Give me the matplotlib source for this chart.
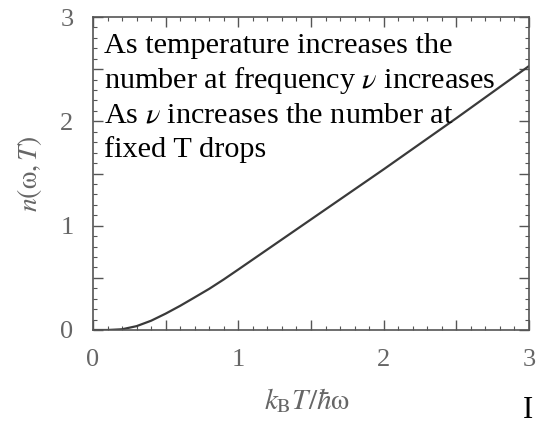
import numpy as np
import matplotlib.pyplot as plt
from matplotlib.ticker import MultipleLocator, FuncFormatter

# occupation number vs reduced temperature
kT_over_hw = [0.0, 0.1, 0.2, 0.3, 0.4, 0.5, 0.6, 0.7, 0.8, 0.9, 1.0,
              1.25, 1.5, 1.75, 2.0, 2.25, 2.5, 2.75, 3.0]
n_occ = [0.0, 0.0, 0.007, 0.037, 0.089, 0.157, 0.232, 0.313, 0.395, 0.485, 0.58,
         0.82, 1.06, 1.30, 1.54, 1.785, 2.03, 2.28, 2.53]

note_lines = [
    "As temperature increases the",
    r"number at frequency $\nu$ increases",
    r"As $\nu$ increases the number at",
    "fixed T drops",
]

plt.rcParams['font.family'] = ['Liberation Serif', 'DejaVu Serif']
plt.rcParams['mathtext.fontset'] = 'stix'

grey = '#555555'
label_grey = '#666666'
fig = plt.figure(figsize=(5.37, 4.25), dpi=100)
ax = fig.add_axes([93/537, 1 - 330/425, (529-93)/537, (330-17)/425])

ax.plot(kT_over_hw, n_occ, color='#3a3a3a', lw=1.6)
ax.set_xlim(0, 3)
ax.set_ylim(0, 3)

# ticks every 0.5 (labelled on integers only) plus minor every 0.1
int_only = FuncFormatter(lambda v, pos: f"{v:.0f}" if abs(v - round(v)) < 1e-6 else "")
for axis in (ax.xaxis, ax.yaxis):
    axis.set_major_locator(MultipleLocator(0.5))
    axis.set_minor_locator(MultipleLocator(0.1))
    axis.set_major_formatter(int_only)
ax.tick_params(which='both', direction='in', top=True, right=True,
               color=grey, labelcolor=label_grey, labelsize=19)
ax.tick_params(which='major', length=7, width=1)
ax.tick_params(which='minor', length=3, width=0.8)
ax.tick_params(axis='x', pad=14)
ax.tick_params(axis='y', pad=14)
for s in ax.spines.values():
    s.set_color(grey)
    s.set_linewidth(1.2)

ax.set_xlabel(r'$k_{\mathrm{B}}T/\hbar\mathrm{\omega}$', fontsize=21,
              color=label_grey)
ax.set_ylabel(r'$n(\mathrm{\omega},T)$', fontsize=20,
              color=label_grey, labelpad=12)
ax.xaxis.set_label_coords(0.49, -0.18)

for i, line in enumerate(note_lines):
    ax.text(0.025, 0.885 - i * 0.111, line, transform=ax.transAxes,
            fontsize=21.8, color='black', va='baseline', ha='left')

fig.text(523/537, 1 - 410/425, "I", fontsize=22, color='black', va='center', ha='left')

fig.savefig('out.png', dpi=100)
